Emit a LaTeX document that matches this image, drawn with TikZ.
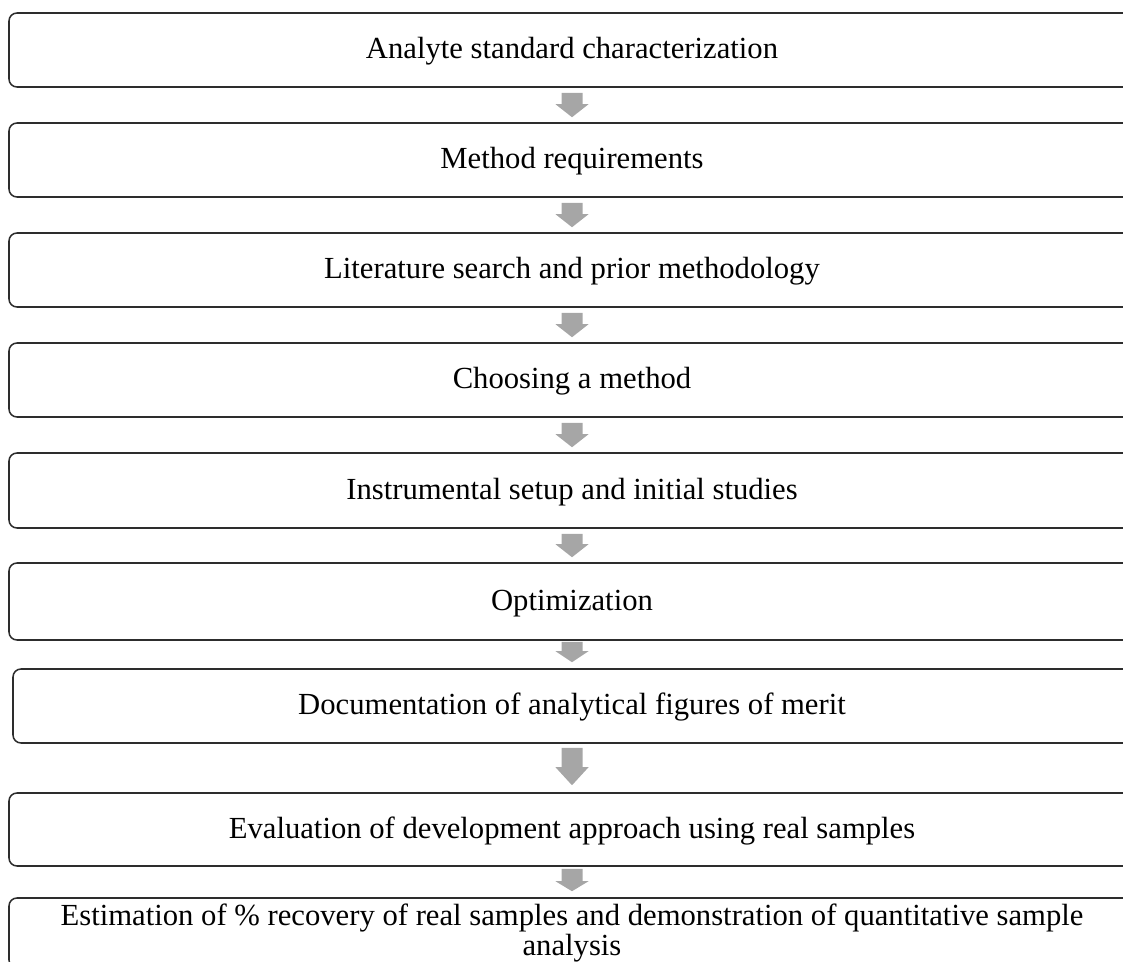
\documentclass[tikz,border=0pt]{standalone}
\usepackage{fontspec}
\setmainfont{Liberation Serif}
\usetikzlibrary{calc}
\definecolor{arrowgray}{RGB}{166,166,166}
\definecolor{boxline}{RGB}{45,45,45}
% #1 from node, #2 to node, #3 gap below #1, #4 gap above #2, #5 head length (px)
\newcommand{\garrow}[5]{%
  \fill[arrowgray] ($(#1.south)+(-10.5,#3)$)
    -- ($(#1.south |- #2.north)+(-10.5,-#4-#5)$)
    -- ($(#1.south |- #2.north)+(-16.5,-#4-#5)$)
    -- ($(#1.south |- #2.north)+(0,-#4)$)
    -- ($(#1.south |- #2.north)+(16.5,-#4-#5)$)
    -- ($(#1.south |- #2.north)+(10.5,-#4-#5)$)
    -- ($(#1.south)+(10.5,#3)$) -- cycle;}
\begin{document}
\begin{tikzpicture}[x=0.75pt,y=-0.75pt,
  stepbox/.style={draw=boxline,line width=1.15pt,rounded corners=6pt,
    minimum width=844.5pt,minimum height=55.5pt,inner sep=0pt,
    font=\fontsize{23}{22.5}\selectfont,align=center},
  onebox/.style={stepbox,text height=17pt,text depth=4pt}]
\useasboundingbox (0,0) rectangle (1123,962);
\clip (0,0) rectangle (1123,962);
\node[onebox] (b1) at (572,50) {Analyte standard characterization};
\node[onebox] (b2) at (572,160) {Method requirements};
\node[onebox] (b3) at (572,270) {Literature search and prior methodology};
\node[onebox] (b4) at (572,380) {Choosing a method};
\node[onebox,minimum height=56.25pt] (b5) at (572,490.5) {Instrumental setup and initial studies};
\node[onebox,minimum height=57.75pt] (b6) at (572,601.5) {Optimization};
\node[onebox,minimum width=838.5pt] (b7) at (572,706) {Documentation of analytical figures of merit};
\node[onebox,minimum height=54.75pt] (b8) at (572,829.5) {Evaluation of development approach using real samples};
\node[stepbox,minimum height=52.5pt] (b9) at (572,933) {Estimation of \% recovery of real samples and demonstration of quantitative sample\\analysis};
\garrow{b1}{b2}{5}{5}{13}
\garrow{b2}{b3}{5}{5}{13}
\garrow{b3}{b4}{5}{5}{13}
\garrow{b4}{b5}{5}{5}{13}
\garrow{b5}{b6}{5}{5}{13}
\garrow{b6}{b7}{1}{6}{11}
\garrow{b7}{b8}{4}{7}{18}
\garrow{b8}{b9}{2}{6}{10}
\end{tikzpicture}
\end{document}
